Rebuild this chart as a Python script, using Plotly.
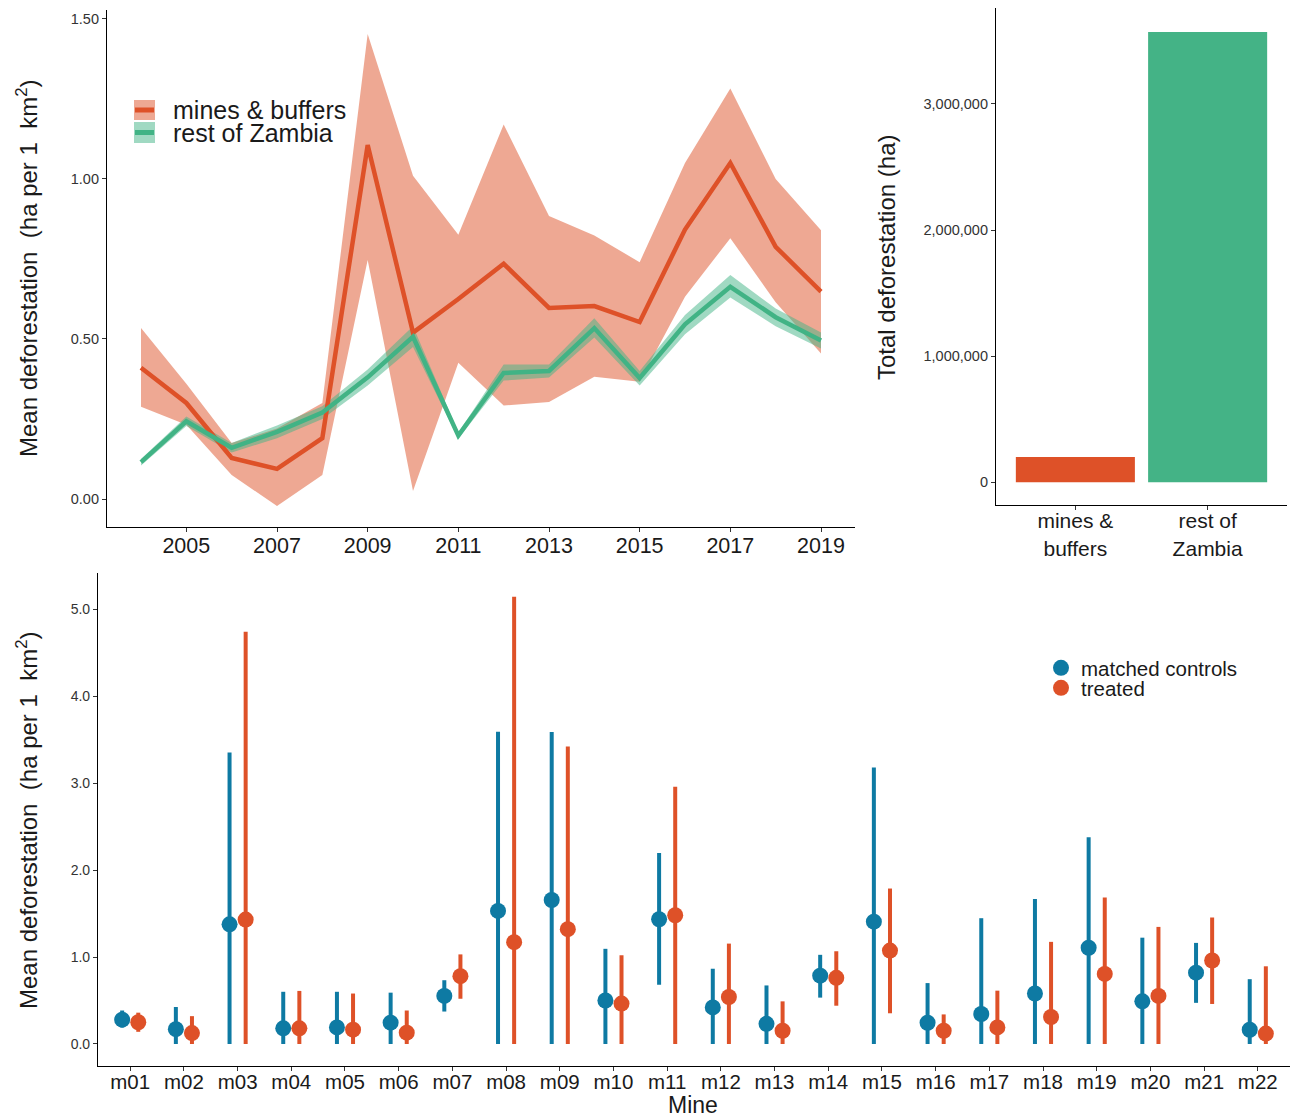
import plotly.graph_objects as go

# ---------------- data ----------------
years = [2004, 2005, 2006, 2007, 2008, 2009, 2010, 2011, 2012, 2013, 2014, 2015, 2016, 2017, 2018, 2019]
mines_mean = [0.41, 0.30, 0.128, 0.094, 0.19, 1.106, 0.52, 0.625, 0.735, 0.597, 0.603, 0.553, 0.842, 1.05, 0.788, 0.648]
mines_lo = [0.288, 0.232, 0.075, -0.022, 0.075, 0.747, 0.025, 0.426, 0.292, 0.303, 0.382, 0.366, 0.632, 0.815, 0.615, 0.455]
mines_hi = [0.534, 0.36, 0.175, 0.22, 0.30, 1.453, 1.01, 0.826, 1.17, 0.884, 0.823, 0.74, 1.05, 1.283, 1.0, 0.84]
rest_mean = [0.115, 0.243, 0.16, 0.21, 0.27, 0.38, 0.507, 0.198, 0.394, 0.40, 0.534, 0.378, 0.546, 0.663, 0.568, 0.495]
rest_lo = [0.105, 0.228, 0.145, 0.19, 0.25, 0.355, 0.475, 0.188, 0.37, 0.38, 0.505, 0.355, 0.515, 0.63, 0.54, 0.47]
rest_hi = [0.125, 0.258, 0.175, 0.23, 0.29, 0.405, 0.54, 0.208, 0.42, 0.42, 0.565, 0.40, 0.575, 0.70, 0.595, 0.52]

bar_cats = ["mines &<br>buffers", "rest of<br>Zambia"]
bar_totals = [200000, 3570000]

mine_ids = ["m01", "m02", "m03", "m04", "m05", "m06", "m07", "m08", "m09", "m10", "m11",
            "m12", "m13", "m14", "m15", "m16", "m17", "m18", "m19", "m20", "m21", "m22"]
ctrl_mean = [0.28, 0.17, 1.375, 0.18, 0.19, 0.245, 0.553, 1.53, 1.655, 0.50, 1.434, 0.42, 0.232, 0.785, 1.406, 0.244, 0.345, 0.58, 1.106, 0.49, 0.82, 0.164]
ctrl_lo = [0.19, 0, 0, 0, 0, 0, 0.373, 0, 0, 0, 0.68, 0, 0, 0.533, 0, 0, 0, 0, 0, 0, 0.473, 0]
ctrl_hi = [0.385, 0.425, 3.35, 0.60, 0.60, 0.59, 0.733, 3.59, 3.585, 1.094, 2.195, 0.865, 0.673, 1.025, 3.177, 0.70, 1.446, 1.667, 2.376, 1.222, 1.162, 0.745]
trt_mean = [0.25, 0.125, 1.43, 0.18, 0.165, 0.13, 0.78, 1.17, 1.32, 0.465, 1.48, 0.54, 0.152, 0.76, 1.074, 0.152, 0.19, 0.31, 0.805, 0.553, 0.96, 0.12]
trt_lo = [0.14, 0, 0, 0, 0, 0, 0.52, 0, 0, 0, 0, 0, 0, 0.44, 0.353, 0, 0, 0, 0, 0, 0.46, 0]
trt_hi = [0.36, 0.32, 4.74, 0.61, 0.58, 0.385, 1.03, 5.14, 3.42, 1.02, 2.957, 1.154, 0.49, 1.066, 1.787, 0.34, 0.613, 1.174, 1.683, 1.346, 1.454, 0.893]

# ---------------- styles ----------------
RED = "#DE5128"
GREEN = "#41B385"
BLUE = "#0E7AA3"
RED_BAND = "rgba(222,81,40,0.5)"
GREEN_BAND = "rgba(65,179,133,0.5)"
FONT = "Liberation Sans"
W, H = 1295, 1117

fig = go.Figure()

# ---- top-left: ribbons ----
for lo, hi, col in [(mines_lo, mines_hi, RED_BAND), (rest_lo, rest_hi, GREEN_BAND)]:
    fig.add_trace(go.Scatter(x=years, y=hi, mode="lines", line=dict(width=0, color=col),
                             showlegend=False, hoverinfo="skip", xaxis="x", yaxis="y"))
    fig.add_trace(go.Scatter(x=years, y=lo, mode="lines", line=dict(width=0, color=col),
                             fill="tonexty", fillcolor=col, showlegend=False,
                             hoverinfo="skip", xaxis="x", yaxis="y"))
for ys, col in [(mines_mean, RED), (rest_mean, GREEN)]:
    fig.add_trace(go.Scatter(x=years, y=ys, mode="lines", line=dict(width=4.5, color=col),
                             showlegend=False, xaxis="x", yaxis="y"))
# legend entries (one legend box per entry to match the tight ggplot spacing);
# their keys are drawn as ggplot-style boxes with shapes below
for name, lg in [("mines & buffers", "legend"), ("rest of Zambia", "legend3")]:
    fig.add_trace(go.Scatter(x=[None], y=[None], mode="lines", name=name,
                             line=dict(width=0, color="rgba(0,0,0,0)"),
                             legend=lg, xaxis="x", yaxis="y"))

# ---- top-right: bars ----
fig.add_trace(go.Bar(x=bar_cats, y=bar_totals, marker=dict(color=[RED, "#44B386"], line=dict(width=0)),
                     width=0.9, showlegend=False, xaxis="x2", yaxis="y2"))

# ---- bottom: dodged point ranges ----
dodge = 0.15
for name, mean, lo, hi, col, sgn, lg in [("matched controls", ctrl_mean, ctrl_lo, ctrl_hi, BLUE, -1, "legend2"),
                                         ("treated", trt_mean, trt_lo, trt_hi, RED, 1, "legend4")]:
    xs = [i + 1 + sgn * dodge for i in range(len(mine_ids))]
    fig.add_trace(go.Scatter(
        x=xs, y=mean, mode="markers", name=name,
        marker=dict(size=16, color=col),
        error_y=dict(type="data", symmetric=False,
                     array=[h - m for h, m in zip(hi, mean)],
                     arrayminus=[m - l for m, l in zip(mean, lo)],
                     color=col, thickness=4, width=0),
        legend=lg, xaxis="x3", yaxis="y3"))


def px_x(a, b):
    return [a / W, b / W]


def px_y(top, bottom):
    return [1 - bottom / H, 1 - top / H]


axis_common = dict(showline=True, linecolor="black", linewidth=1.2, ticks="outside",
                   ticklen=4, tickcolor="#333333", showgrid=False, zeroline=False, mirror=False)


def leg(x_px, top_px, size):
    return dict(x=x_px / W, y=1 - top_px / H, xanchor="left", yanchor="top",
                font=dict(size=size, color="#1a1a1a"), bgcolor="rgba(0,0,0,0)",
                traceorder="normal", tracegroupgap=0, itemwidth=30)


fig.update_layout(
    width=W, height=H, autosize=False,
    margin=dict(l=0, r=0, t=0, b=0),
    paper_bgcolor="white", plot_bgcolor="white",
    font=dict(family=FONT, color="#1a1a1a"),
    xaxis=dict(domain=px_x(107, 855), anchor="y", range=[2003.25, 2019.75],
               tickvals=[2005, 2007, 2009, 2011, 2013, 2015, 2017, 2019],
               tickfont=dict(size=21.5, color="#1a1a1a"), ticklabelstandoff=-5, **axis_common),
    yaxis=dict(domain=px_y(10, 527), anchor="x", range=[-0.0875, 1.528],
               tickvals=[0, 0.5, 1.0, 1.5], tickformat=".2f",
               tickfont=dict(size=14.5, color="#333333"), **axis_common),
    xaxis2=dict(domain=px_x(996, 1287), anchor="y2", type="category", range=[-0.6, 1.6],
                tickfont=dict(size=21, color="#1a1a1a"), ticklabelstandoff=-7, **axis_common),
    yaxis2=dict(domain=px_y(8, 505), anchor="x2", range=[-180000, 3760000],
                tickvals=[0, 1000000, 2000000, 3000000], tickformat=",",
                tickfont=dict(size=14.5, color="#333333"), **axis_common),
    xaxis3=dict(domain=px_x(98, 1290), anchor="y3", range=[0.4, 22.6],
                tickvals=list(range(1, len(mine_ids) + 1)), ticktext=mine_ids,
                tickfont=dict(size=20.5, color="#1a1a1a"), ticklabelstandoff=-7, **axis_common),
    yaxis3=dict(domain=px_y(573, 1066), anchor="x3", range=[-0.253, 5.414],
                tickvals=[0, 1, 2, 3, 4, 5], tickformat=".1f",
                tickfont=dict(size=14, color="#333333"), **axis_common),
    legend=leg(133, 86, 25),
    legend3=leg(133, 109, 25),
    legend2=leg(1041, 648, 20.5),
    legend4=leg(1041, 668, 20.5),
    showlegend=True,
)

# ggplot-style legend keys (filled box with the line across it)
for (top, bottom), band, col in [((100, 120), RED_BAND, RED), ((122, 143), GREEN_BAND, GREEN)]:
    fig.add_shape(type="rect", xref="paper", yref="paper",
                  x0=134 / W, x1=155 / W, y0=1 - bottom / H, y1=1 - top / H,
                  fillcolor=band, line=dict(width=0), layer="above")
    mid = (top + bottom) / 2
    fig.add_shape(type="line", xref="paper", yref="paper",
                  x0=135 / W, x1=154 / W, y0=1 - mid / H, y1=1 - mid / H,
                  line=dict(color=col, width=5), layer="above")

title_font = dict(size=24, color="#1a1a1a", family=FONT)
ytitle = "Mean deforestation\u00a0 (ha per 1\u00a0 km<sup>2</sup>)"
fig.add_annotation(text=ytitle, textangle=-90, xref="paper", yref="paper",
                   x=27 / W, y=1 - 268 / H, xanchor="center", yanchor="middle",
                   showarrow=False, font=title_font)
fig.add_annotation(text=ytitle, textangle=-90, xref="paper", yref="paper",
                   x=27 / W, y=1 - 820 / H, xanchor="center", yanchor="middle",
                   showarrow=False, font=title_font)
fig.add_annotation(text="Total deforestation (ha)", textangle=-90, xref="paper", yref="paper",
                   x=886 / W, y=1 - 258 / H, xanchor="center", yanchor="middle",
                   showarrow=False, font=title_font)
fig.add_annotation(text="Mine", xref="paper", yref="paper",
                   x=693 / W, y=1 - 1105 / H, xanchor="center", yanchor="middle",
                   showarrow=False, font=dict(size=23, color="#1a1a1a", family=FONT))

fig.write_html("out.html", config={"displayModeBar": False},
               post_script="document.body.style.margin='0px';document.body.style.overflow='hidden';")
